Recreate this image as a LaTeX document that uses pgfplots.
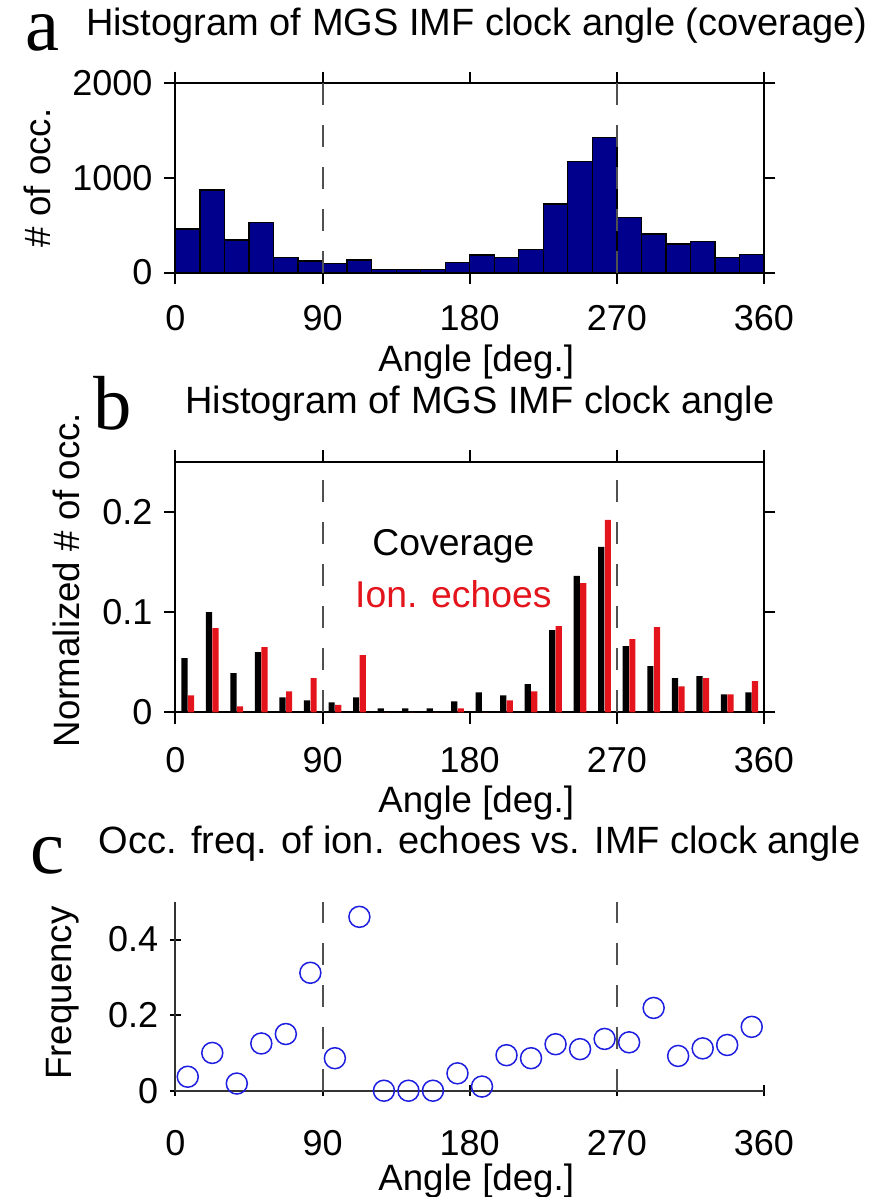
\documentclass[border=0pt]{standalone}
\usepackage{fontspec}
\setmainfont{Liberation Sans}
\newfontfamily\lettfont{Liberation Serif}
\usepackage{pgfplots}
\pgfplotsset{compat=1.18}
\usepackage{pgfplotstable}

\definecolor{navy}{RGB}{0,0,140}
\definecolor{ionred}{RGB}{228,20,28}
\definecolor{dashgray}{RGB}{80,80,80}
\definecolor{circblue}{RGB}{30,30,225}

\pgfplotstableread{
x cnt
7.5 460
22.5 870
37.5 343
52.5 526
67.5 156
82.5 121
97.5 97
112.5 132
127.5 35
142.5 35
157.5 35
172.5 103
187.5 185
202.5 156
217.5 245
232.5 723
247.5 1170
262.5 1423
277.5 582
292.5 406
307.5 301
322.5 329
337.5 160
352.5 192
}\covtab

\pgfplotstableread{
x cov ion
7.5 0.054 0.017
22.5 0.100 0.084
37.5 0.039 0.006
52.5 0.060 0.065
67.5 0.015 0.021
82.5 0.012 0.034
97.5 0.010 0.0075
112.5 0.015 0.057
127.5 0.004 0
142.5 0.004 0
157.5 0.004 0
172.5 0.011 0.004
187.5 0.020 0
202.5 0.017 0.012
217.5 0.028 0.021
232.5 0.082 0.086
247.5 0.136 0.129
262.5 0.165 0.192
277.5 0.066 0.073
292.5 0.046 0.085
307.5 0.034 0.026
322.5 0.036 0.034
337.5 0.018 0.018
352.5 0.020 0.031
}\normtab

\pgfplotstableread{
x f
7.5 0.037
22.5 0.100
37.5 0.019
52.5 0.125
67.5 0.150
82.5 0.312
97.5 0.086
112.5 0.460
127.5 0
142.5 0
157.5 0
172.5 0.046
187.5 0.011
202.5 0.094
217.5 0.086
232.5 0.123
247.5 0.110
262.5 0.137
277.5 0.128
292.5 0.219
307.5 0.092
322.5 0.112
337.5 0.121
352.5 0.169
}\freqtab

\pgfplotsset{
  panel/.style={
    scale only axis, width=176.55pt,
    xmin=0, xmax=360, xtick={0,90,180,270,360},
    tick align=outside, major tick length=3.4pt,
    axis line style={line width=0.6pt},
    every tick/.style={line width=0.6pt, black},
    tick label style={font=\fontsize{10.8}{12}\selectfont},
    /pgf/number format/assume math mode=true,
    /pgf/number format/1000 sep={},
    label style={font=\fontsize{11}{13}\selectfont},
    title style={font=\fontsize{11.4}{13}\selectfont, anchor=base},
    clip=false,
  },
  vdash/.style={dashgray, line width=0.6pt, dash pattern=on 6.6pt off 6pt, forget plot},
}
\tikzset{letter/.style={anchor=base west, inner sep=0pt, font=\lettfont\fontsize{23}{27}\selectfont}}

\begin{document}
\begin{tikzpicture}
\useasboundingbox (0,0) rectangle (261.6pt,-359.1pt);

% ---------- panel a ----------
\begin{axis}[panel,
  at={(52.65pt,-81.75pt)}, anchor=south west,
  height=56.85pt,
  ymin=0, ymax=2000, ytick={0,1000,2000},
  xticklabel style={yshift=-3.0pt},
  title={Histogram of MGS IMF clock angle (coverage)},
  title style={at={(axis description cs:0.512,1)}, yshift=8.4pt},
  xlabel={Angle [deg.]},
  xlabel style={at={(axis description cs:0.511,-0.52)}, anchor=base},
  ylabel={\# of occ.},
  ylabel style={at={(axis description cs:-0.235,0.5)}, anchor=center},
]
\addplot[ybar, bar width=15, fill=navy, draw=black, line width=0.4pt] table[x=x, y=cnt] {\covtab};
\addplot[vdash] coordinates {(90,0) (90,2000)};
\addplot[vdash] coordinates {(270,0) (270,2000)};
\node[letter] at (axis description cs:-0.2557,1.172) {a};
\end{axis}

% ---------- panel b ----------
\begin{axis}[panel,
  at={(52.65pt,-213.69pt)}, anchor=south west,
  height=75.18pt,
  ymin=0, ymax=0.25, ytick={0,0.1,0.2},
  yticklabel style={/pgf/number format/fixed},
  xticklabel style={yshift=-3.5pt},
  title={Histogram of MGS IMF clock angle},
  title style={at={(axis description cs:0.517,1)}, yshift=8.6pt},
  xlabel={Angle [deg.]},
  xlabel style={at={(axis description cs:0.511,-0.400)}, anchor=base},
  ylabel={Normalized \# of occ.},
  ylabel style={at={(axis description cs:-0.186,0.528)}, anchor=center},
]
\addplot[ybar, bar width=3.8, bar shift=-2, fill=black, draw=none] table[x=x, y=cov] {\normtab};
\addplot[ybar, bar width=3.8, bar shift=2, fill=ionred, draw=none] table[x=x, y=ion] {\normtab};
\addplot[vdash] coordinates {(90,0) (90,0.25)};
\addplot[vdash] coordinates {(270,0) (270,0.25)};
\node[anchor=base, font=\fontsize{11.2}{13}\selectfont] at (axis cs:170,0.156) {Coverage};
\node[anchor=base, font=\fontsize{11.2}{13}\selectfont, text=ionred] at (axis cs:170,0.105) {Ion. echoes};
\node[letter] at (axis description cs:-0.140,1.1305) {b};
\end{axis}

% ---------- panel c ----------
\begin{axis}[panel,
  at={(52.65pt,-327.21pt)}, anchor=south west,
  height=56.7pt,
  axis x line=bottom, axis y line=left,
  axis line style={-, line width=0.6pt, black!80},
  ymin=0, ymax=0.5, ytick={0,0.2,0.4},
  yticklabel style={/pgf/number format/fixed},
  xticklabel style={yshift=-6.6pt},
  title={Occ. freq. of ion. echoes vs. IMF clock angle},
  title style={at={(axis description cs:0.517,1)}, yshift=8.5pt},
  xlabel={Angle [deg.]},
  xlabel style={at={(axis description cs:0.511,-0.527)}, anchor=base},
  ylabel={Frequency},
  ylabel style={at={(axis description cs:-0.191,0.517)}, anchor=center},
]
\addplot[vdash] coordinates {(90,0) (90,0.5)};
\addplot[vdash] coordinates {(270,0) (270,0.5)};
\addplot[only marks, mark=o, mark size=3.15pt, mark options={circblue, line width=0.45pt}] table[x=x, y=f] {\freqtab};
\node[letter] at (axis description cs:-0.2472,1.1519) {c};
\end{axis}
\end{tikzpicture}
\end{document}
